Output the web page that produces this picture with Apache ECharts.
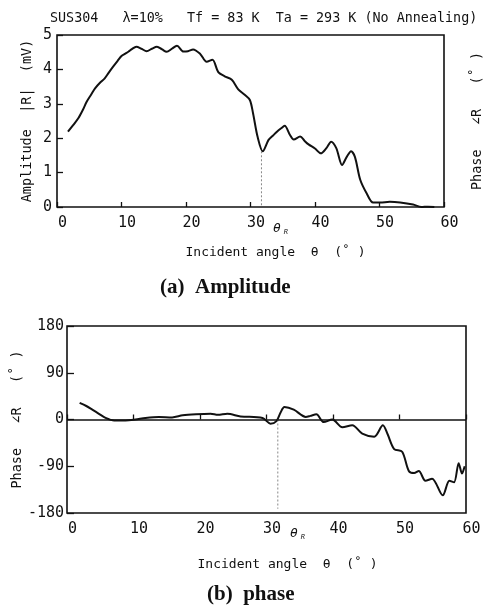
<!DOCTYPE html>
<html>
<head>
<meta charset="utf-8">
<script src="https://cdn.jsdelivr.net/npm/echarts@6/dist/echarts.min.js"></script>
<style>html,body{margin:0;padding:0;background:#fff}#c{width:484px;height:615px}</style>
</head>
<body>
<div id="c"></div>
<script>
// Incident angle tick labels (degrees)
const angleTicks = [0, 10, 20, 30, 40, 50, 60];
const ampTicks = [0, 1, 2, 3, 4, 5];
const phaseTicks = [-180, -90, 0, 90, 180];

// (a) Amplitude |R| (mV) vs incident angle
const ampX = [1.7, 2.5, 3.3, 4.0, 4.6, 5.3, 5.9, 6.7, 7.4, 8.0, 8.7, 9.4, 10.0, 10.6, 11.1, 11.6, 12.3, 13.1, 13.9, 14.7, 15.5, 16.3, 17.0, 17.8, 18.6, 19.6, 20.3, 21.1, 22.2, 23.2, 24.1, 25.0, 26.0, 27.1, 28.1, 29.1, 29.9, 30.4, 31.1, 31.9, 32.8, 33.5, 34.1, 34.7, 35.3, 36.1, 36.7, 37.7, 38.4, 39.0, 40.0, 40.9, 41.8, 42.5, 43.3, 44.2, 44.9, 45.6, 46.2, 47.0, 48.0, 49.0, 50.1, 51.6, 53.2, 55.2, 56.5, 57.5, 58.5];
const ampY = [2.19, 2.38, 2.58, 2.82, 3.06, 3.27, 3.45, 3.62, 3.74, 3.9, 4.08, 4.25, 4.39, 4.46, 4.52, 4.59, 4.66, 4.6, 4.53, 4.6, 4.66, 4.58, 4.51, 4.6, 4.69, 4.52, 4.53, 4.58, 4.45, 4.22, 4.28, 3.92, 3.8, 3.7, 3.42, 3.26, 3.11, 2.72, 2.04, 1.62, 1.95, 2.08, 2.19, 2.28, 2.36, 2.1, 1.96, 2.05, 1.92, 1.82, 1.7, 1.56, 1.72, 1.9, 1.71, 1.22, 1.45, 1.62, 1.45, 0.8, 0.4, 0.13, 0.13, 0.15, 0.13, 0.07, 0.0, 0.01, 0.0];

// (b) Phase ∠R (deg) vs incident angle
const phX = [1.9, 2.9, 3.8, 4.8, 5.8, 7.1, 8.8, 10.3, 11.8, 13.8, 15.8, 17.4, 19.4, 21.6, 22.7, 24.1, 26.1, 29.4, 30.6, 31.5, 32.1, 32.7, 34.1, 35.9, 36.6, 37.5, 38.6, 39.9, 41.4, 42.9, 44.4, 46.2, 47.5, 48.2, 49.2, 50.4, 51.4, 52.2, 52.9, 53.9, 54.9, 56.5, 57.5, 58.2, 58.9, 59.4, 59.8];
const phY = [32, 26, 19, 11, 3, -2, -2, 0, 3, 5, 4, 8, 10, 11, 9, 11, 6, 3, -8, -3, 13, 24, 19, 5, 7, 10, -5, 0, -15, -11, -27, -33, -11, -28, -57, -62, -99, -103, -99, -118, -114, -146, -118, -121, -84, -104, -90];

// Rayleigh critical angle marker
const thetaR = 31.7;
const thetaRAmp = 1.62;
const phaseBottom = -172;

const MONO = "'DejaVu Sans Mono', 'Liberation Mono', monospace";
const SERIF = "'Liberation Serif', 'DejaVu Serif', serif";

const chart = echarts.init(document.getElementById('c'), null, {renderer: 'canvas'});

function xAxisFor(gi, nameGap, namePad) {
  return {
    type: 'value', gridIndex: gi, min: angleTicks[0], max: angleTicks[angleTicks.length - 1], interval: 10,
    axisLine: {show: false},
    axisTick: {show: true, inside: true, length: 5, lineStyle: {color: '#111', width: 1.3}},
    splitLine: {show: false},
    axisLabel: {color: '#111', fontFamily: MONO, fontSize: 15, margin: 9, padding: [0, 0, 0, 11],
      formatter: v => angleTicks.includes(v) ? String(v) : ''},
    name: 'Incident angle  θ  (˚ )', nameLocation: 'middle', nameGap: nameGap, nameMoveOverlap: false,
    nameTextStyle: {color: '#111', fontFamily: MONO, fontSize: 13, padding: [0, 0, 0, namePad]}
  };
}

const thetaRText = (left, top) => ({text: 'θ{s|R}', left: left, top: top,
  textStyle: {fontFamily: MONO, fontSize: 13, fontStyle: 'italic', fontWeight: 'normal', color: '#111',
    rich: {s: {fontSize: 7, fontFamily: MONO, verticalAlign: 'bottom', padding: [8, 0, 0, 3], color: '#111'}}}});

const option = {
  animation: false,
  backgroundColor: '#fff',
  title: [
    {text: 'SUS304   λ=10%   Tf = 83 K  Ta = 293 K (No Annealing)', left: 45, top: 7,
      textStyle: {fontFamily: MONO, fontSize: 13.4, fontWeight: 'normal', color: '#111'}},
    {text: '(a)  Amplitude', left: 155, top: 272,
      textStyle: {fontFamily: SERIF, fontSize: 21, fontWeight: 'bold', color: '#111'}},
    {text: '(b)  phase', left: 202, top: 579,
      textStyle: {fontFamily: SERIF, fontSize: 21, fontWeight: 'bold', color: '#111'}},
    thetaRText(268, 216),
    thetaRText(285, 521)
  ],
  grid: [
    {left: 57, right: 40, top: 35, height: 172, show: true, borderColor: '#111', borderWidth: 1.6,
      backgroundColor: 'transparent', outerBoundsMode: 'none', containLabel: false},
    {left: 67, right: 18, top: 326, height: 187, show: true, borderColor: '#111', borderWidth: 1.6,
      backgroundColor: 'transparent', outerBoundsMode: 'none', containLabel: false}
  ],
  xAxis: [xAxisFor(0, 39, 50), xAxisFor(1, 45, 42)],
  yAxis: [
    {type: 'value', gridIndex: 0, min: ampTicks[0], max: ampTicks[ampTicks.length - 1], interval: 1,
      axisLine: {show: false}, splitLine: {show: false},
      axisTick: {show: true, inside: true, length: 6, lineStyle: {color: '#111', width: 1.3}},
      axisLabel: {color: '#111', fontFamily: MONO, fontSize: 15, margin: 5},
      name: 'Amplitude  |R|  (mV)', nameLocation: 'middle', nameGap: 23, nameRotate: 90, nameMoveOverlap: false,
      nameTextStyle: {color: '#111', fontFamily: MONO, fontSize: 13.5}},
    {type: 'value', gridIndex: 0, position: 'right', min: 0, max: 5,
      axisLine: {show: false}, splitLine: {show: false}, axisTick: {show: false}, axisLabel: {show: false},
      name: 'Phase   ∠R   (˚ )', nameLocation: 'middle', nameGap: 26, nameRotate: 90, nameMoveOverlap: false,
      nameTextStyle: {color: '#111', fontFamily: MONO, fontSize: 13.5}},
    {type: 'value', gridIndex: 1, min: phaseTicks[0], max: phaseTicks[phaseTicks.length - 1], interval: 90,
      axisLine: {show: false}, splitLine: {show: false},
      axisTick: {show: true, inside: true, length: 7, lineStyle: {color: '#111', width: 1.3}},
      axisLabel: {color: '#111', fontFamily: MONO, fontSize: 15, margin: 3},
      name: 'Phase   ∠R   (˚ )', nameLocation: 'middle', nameGap: 43, nameRotate: 90, nameMoveOverlap: false,
      nameTextStyle: {color: '#111', fontFamily: MONO, fontSize: 13.5}}
  ],
  series: [
    {type: 'line', xAxisIndex: 0, yAxisIndex: 0, showSymbol: false, smooth: 0.3,
      lineStyle: {color: '#111', width: 2}, data: ampX.map((x, i) => [x, ampY[i]])},
    {type: 'line', xAxisIndex: 0, yAxisIndex: 0, showSymbol: false,
      lineStyle: {color: '#888', width: 1, type: [2, 2]}, data: [[thetaR, thetaRAmp], [thetaR, 0]]},
    {type: 'line', xAxisIndex: 1, yAxisIndex: 2, showSymbol: false, smooth: 0.3,
      lineStyle: {color: '#111', width: 2}, data: phX.map((x, i) => [x, phY[i]]),
      markLine: {silent: true, symbol: 'none', label: {show: false},
        lineStyle: {color: '#111', width: 1.5, type: 'solid'}, data: [{yAxis: 0}]}},
    {type: 'line', xAxisIndex: 1, yAxisIndex: 2, showSymbol: false,
      lineStyle: {color: '#888', width: 1, type: [2, 2]}, data: [[thetaR, 0], [thetaR, phaseBottom]]}
  ]
};
chart.setOption(option);
</script>
</body>
</html>
